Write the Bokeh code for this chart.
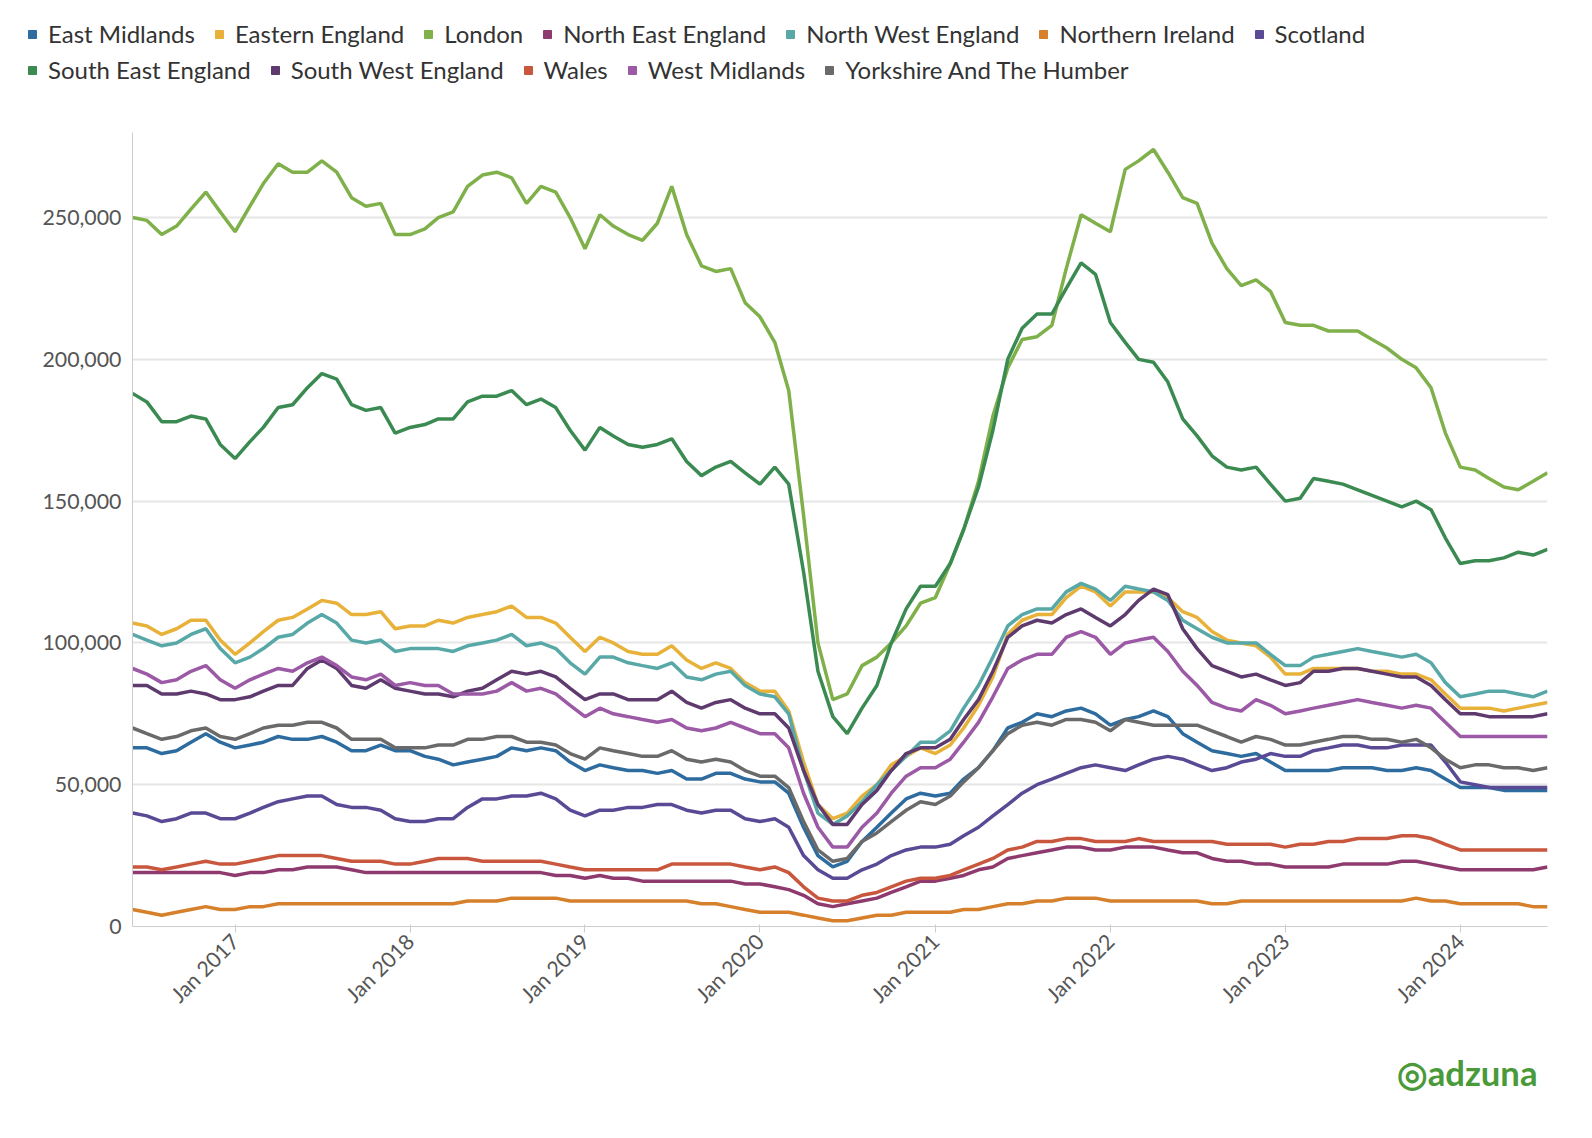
import datetime as dt
from bokeh.plotting import figure
from bokeh.layouts import column
from bokeh.models import Legend, LegendItem, FixedTicker, NumeralTickFormatter, DatetimeTickFormatter, Title, Range1d
from bokeh.embed import file_html
from bokeh.resources import INLINE
import math

months = []
y, m = 2016, 6
for _ in range(98):
    months.append(dt.datetime(y, m, 1))
    m += 1
    if m > 12:
        m = 1; y += 1

east_midlands = [63,63,61,62,65,68,65,63,64,65,67,66,66,67,65,62,62,64,62,62,60,59,57,58,59,60,63,62,63,62,58,55,57,56,55,55,54,55,52,52,54,54,52,51,51,47,35,25,21,23,30,35,40,45,47,46,47,52,56,62,70,72,75,74,76,77,75,71,73,74,76,74,68,65,62,61,60,61,58,55,55,55,55,56,56,56,55,55,56,55,52,49,49,49,48,48,48,48]
eastern_england = [107,106,103,105,108,108,101,96,100,104,108,109,112,115,114,110,110,111,105,106,106,108,107,109,110,111,113,109,109,107,102,97,102,100,97,96,96,99,94,91,93,91,86,83,83,76,58,43,38,40,46,50,57,60,63,61,64,70,78,88,103,108,110,110,116,120,118,113,118,118,118,116,111,109,104,101,100,99,95,89,89,91,91,91,91,90,90,89,89,87,82,77,77,77,76,77,78,79]
london = [250,249,244,247,253,259,252,245,254,262,269,266,266,270,266,257,254,255,244,244,246,250,252,261,265,266,264,255,261,259,250,239,251,247,244,242,248,261,244,233,231,232,220,215,206,189,145,100,80,82,92,95,100,106,114,116,128,140,157,180,197,207,208,212,232,251,248,245,267,270,274,266,257,255,241,232,226,228,224,213,212,212,210,210,210,207,204,200,197,190,174,162,161,158,155,154,157,160]
north_east = [19,19,19,19,19,19,19,18,19,19,20,20,21,21,21,20,19,19,19,19,19,19,19,19,19,19,19,19,19,18,18,17,18,17,17,16,16,16,16,16,16,16,15,15,14,13,11,8,7,8,9,10,12,14,16,16,17,18,20,21,24,25,26,27,28,28,27,27,28,28,28,27,26,26,24,23,23,22,22,21,21,21,21,22,22,22,22,23,23,22,21,20,20,20,20,20,20,21]
north_west = [103,101,99,100,103,105,98,93,95,98,102,103,107,110,107,101,100,101,97,98,98,98,97,99,100,101,103,99,100,98,93,89,95,95,93,92,91,93,88,87,89,90,85,82,81,75,55,40,36,39,44,50,55,60,65,65,69,77,85,95,106,110,112,112,118,121,119,115,120,119,118,115,108,105,102,100,100,100,96,92,92,95,96,97,98,97,96,95,96,93,86,81,82,83,83,82,81,83]
northern_ireland = [6,5,4,5,6,7,6,6,7,7,8,8,8,8,8,8,8,8,8,8,8,8,8,9,9,9,10,10,10,10,9,9,9,9,9,9,9,9,9,8,8,7,6,5,5,5,4,3,2,2,3,4,4,5,5,5,5,6,6,7,8,8,9,9,10,10,10,9,9,9,9,9,9,9,8,8,9,9,9,9,9,9,9,9,9,9,9,9,10,9,9,8,8,8,8,8,7,7]
scotland = [40,39,37,38,40,40,38,38,40,42,44,45,46,46,43,42,42,41,38,37,37,38,38,42,45,45,46,46,47,45,41,39,41,41,42,42,43,43,41,40,41,41,38,37,38,35,25,20,17,17,20,22,25,27,28,28,29,32,35,39,43,47,50,52,54,56,57,56,55,57,59,60,59,57,55,56,58,59,61,60,60,62,63,64,64,63,63,64,64,64,58,51,50,49,49,49,49,49]
south_east = [188,185,178,178,180,179,170,165,171,176,183,184,190,195,193,184,182,183,174,176,177,179,179,185,187,187,189,184,186,183,175,168,176,173,170,169,170,172,164,159,162,164,160,156,162,156,125,90,74,68,77,85,100,112,120,120,128,140,155,175,200,211,216,216,225,234,230,213,206,200,199,192,179,173,166,162,161,162,156,150,151,158,157,156,154,152,150,148,150,147,137,128,129,129,130,132,131,133]
south_west = [85,85,82,82,83,82,80,80,81,83,85,85,91,94,91,85,84,87,84,83,82,82,81,83,84,87,90,89,90,88,84,80,82,82,80,80,80,83,79,77,79,80,77,75,75,70,55,43,36,36,43,48,55,61,63,63,66,73,80,90,102,106,108,107,110,112,109,106,110,115,119,117,105,98,92,90,88,89,87,85,86,90,90,91,91,90,89,88,88,85,80,75,75,74,74,74,74,75]
wales = [21,21,20,21,22,23,22,22,23,24,25,25,25,25,24,23,23,23,22,22,23,24,24,24,23,23,23,23,23,22,21,20,20,20,20,20,20,22,22,22,22,22,21,20,21,19,14,10,9,9,11,12,14,16,17,17,18,20,22,24,27,28,30,30,31,31,30,30,30,31,30,30,30,30,30,29,29,29,29,28,29,29,30,30,31,31,31,32,32,31,29,27,27,27,27,27,27,27]
west_midlands = [91,89,86,87,90,92,87,84,87,89,91,90,93,95,92,88,87,89,85,86,85,85,82,82,82,83,86,83,84,82,78,74,77,75,74,73,72,73,70,69,70,72,70,68,68,63,47,35,28,28,35,40,47,53,56,56,59,65,72,81,91,94,96,96,102,104,102,96,100,101,102,97,90,85,79,77,76,80,78,75,76,77,78,79,80,79,78,77,78,77,72,67,67,67,67,67,67,67]
yorkshire = [70,68,66,67,69,70,67,66,68,70,71,71,72,72,70,66,66,66,63,63,63,64,64,66,66,67,67,65,65,64,61,59,63,62,61,60,60,62,59,58,59,58,55,53,53,49,37,27,23,24,30,33,37,41,44,43,46,51,56,62,68,71,72,71,73,73,72,69,73,72,71,71,71,71,69,67,65,67,66,64,64,65,66,67,67,66,66,65,66,63,59,56,57,57,56,56,55,56]

series = [
    ("East Midlands", east_midlands, "#2e6b9e"),
    ("Eastern England", eastern_england, "#e8b23a"),
    ("London", london, "#7fb04a"),
    ("North East England", north_east, "#8e3a6e"),
    ("North West England", north_west, "#58a8a8"),
    ("Northern Ireland", northern_ireland, "#d6802c"),
    ("Scotland", scotland, "#5a4a96"),
    ("South East England", south_east, "#3a8a52"),
    ("South West England", south_west, "#5e3a6e"),
    ("Wales", wales, "#c8573e"),
    ("West Midlands", west_midlands, "#9b59a6"),
    ("Yorkshire And The Humber", yorkshire, "#6a6a6a"),
]

FONT = "Lato"
W = 1560

lf = figure(width=W, height=132, output_backend="svg", toolbar_location=None,
            x_axis_location=None, y_axis_location=None,
            min_border_left=0, min_border_right=0, min_border_top=0, min_border_bottom=0,
            x_range=Range1d(0, 1), y_range=Range1d(0, 1))
lf.grid.visible = False
lf.outline_line_color = None

p = figure(width=W, height=990, x_axis_type="datetime", output_backend="svg",
           toolbar_location=None, min_border_left=132, min_border_right=13,
           min_border_top=0, min_border_bottom=170)
p.x_range = Range1d(dt.datetime(2016, 6, 1), dt.datetime(2024, 7, 1))
p.y_range = Range1d(0, 280000)

items = []
for name, vals, col in series:
    p.line(months, [v * 1000 for v in vals], line_color=col, line_width=3.5)
    r = lf.scatter([5], [5], marker="square", size=20, fill_color=col, line_color=col)
    items.append(LegendItem(label=name, renderers=[r]))

def mk_legend(its, loc):
    return Legend(items=its, orientation="horizontal", location=loc,
                  label_text_font=FONT, label_text_font_size="18pt", label_text_color="#333333",
                  glyph_width=20, glyph_height=20, spacing=14, label_standoff=6,
                  border_line_color=None, background_fill_alpha=0, padding=0, margin=0,
                  label_height=24)

lf.add_layout(mk_legend(items[:7], (22, 84)), "center")
lf.add_layout(mk_legend(items[7:], (22, 48)), "center")

p.xaxis.ticker = FixedTicker(ticks=[dt.datetime(yr, 1, 1).timestamp() * 1000 for yr in range(2017, 2025)])
p.xaxis.formatter = DatetimeTickFormatter(years="Jan %Y", months="Jan %Y", days="Jan %Y")
p.xaxis.major_label_orientation = math.pi / 4
p.yaxis.ticker = FixedTicker(ticks=[0, 50000, 100000, 150000, 200000, 250000])
p.yaxis.formatter = NumeralTickFormatter(format="0,0")
for ax in (p.xaxis, p.yaxis):
    ax.major_label_text_font = FONT
    ax.major_label_text_font_size = "16pt"
    ax.major_label_text_color = "#555555"
    ax.major_tick_line_color = "#cccccc"
    ax.minor_tick_line_color = None
    ax.axis_line_color = "#cccccc"
p.yaxis.major_tick_line_color = None
p.xgrid.grid_line_color = None
p.ygrid.grid_line_color = "#e6e6e6"
p.ygrid.grid_line_width = 2
p.outline_line_color = None

p.add_layout(Title(text="◎adzuna", align="right", text_font=FONT, text_font_size="26pt",
                   text_font_style="bold", text_color="#4a9a3a", offset=10, standoff=60), "below")

open("out.html", "w").write(file_html(column(column(lf), p, spacing=0), INLINE))
